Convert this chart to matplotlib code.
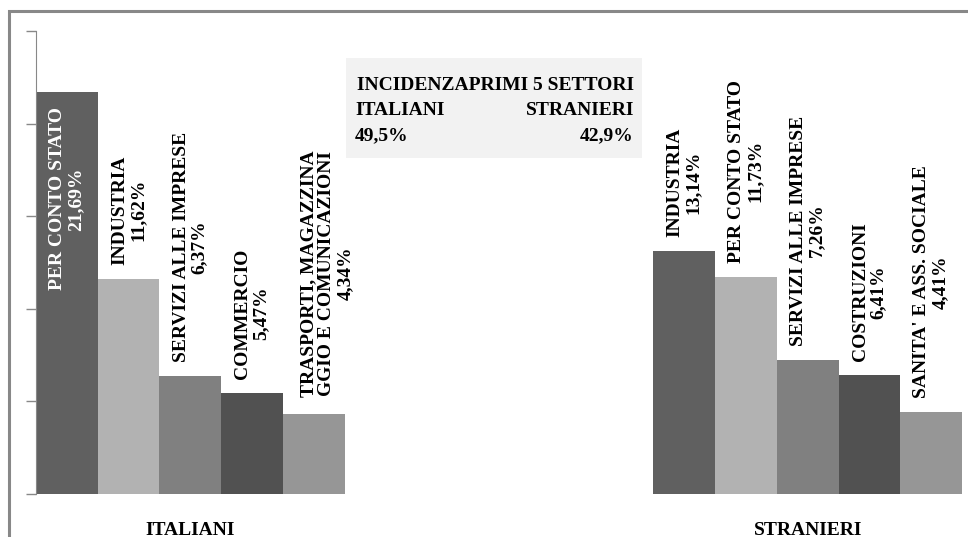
import matplotlib.pyplot as plt
from matplotlib.patches import Rectangle

plt.rcParams['font.family'] = ['Liberation Serif', 'DejaVu Serif']

# Quote per settore (prime 5 attivita')
gruppi = ['ITALIANI', 'STRANIERI']
settori_ita = ['PER CONTO STATO', 'INDUSTRIA', 'SERVIZI ALLE IMPRESE', 'COMMERCIO',
               'TRASPORTI, MAGAZZINA\nGGIO E COMUNICAZIONI']
valori_ita = [21.69, 11.62, 6.37, 5.47, 4.34]
settori_str = ['INDUSTRIA', 'PER CONTO STATO', 'SERVIZI ALLE IMPRESE', 'COSTRUZIONI',
               "SANITA' E ASS. SOCIALE"]
valori_str = [13.14, 11.73, 7.26, 6.41, 4.41]

incidenza_titolo = 'INCIDENZAPRIMI 5 SETTORI'
incidenza = {'ITALIANI': '49,5%', 'STRANIERI': '42,9%'}

colori = ['#606060', '#b2b2b2', '#808080', '#515151', '#969696']

W, H = 968, 537
fig = plt.figure(figsize=(W / 100, H / 100), dpi=100)
ax = fig.add_axes([36 / W, 1 - 494 / H, 926 / W, (494 - 31) / H])

larg = 0.1
fs = 14


def fmt(v):
    return f'{v:.2f}'.replace('.', ',') + '%'


for g, (nomi, valori) in enumerate([(settori_ita, valori_ita), (settori_str, valori_str)]):
    for i, (nome, v) in enumerate(zip(nomi, valori)):
        x = g + (i - 2) * larg
        ax.bar(x, v, width=larg, color=colori[i], linewidth=0)
        testo = f'{nome}\n{fmt(v)}'
        if g == 0 and i == 0:
            # etichetta dentro la barra piu' alta
            ax.annotate(testo, (x, v), xytext=(0, -15), textcoords='offset pixels',
                        rotation=90, ha='center', va='top', color='white',
                        fontsize=fs, fontweight='bold', multialignment='center',
                        linespacing=1.1)
        else:
            # l'etichetta su tre righe e' spostata un po' a destra
            dx = 13 if '\n' in nome else 0
            dy = 17 if '\n' in nome else 14
            ax.annotate(testo, (x, v), xytext=(dx, dy), textcoords='offset pixels',
                        rotation=90, ha='center', va='bottom', color='black',
                        fontsize=fs, fontweight='bold', multialignment='center',
                        linespacing=1.1)

ax.set_xlim(-0.25, 1.25)
ax.set_ylim(0, 25)
ax.set_yticks(range(0, 26, 5))
ax.set_yticklabels([])
ax.set_xticks([0, 1])
ax.set_xticklabels(gruppi, fontsize=fs, fontweight='bold')
ax.tick_params(axis='x', length=0, pad=20)
ax.tick_params(axis='y', length=7, direction='out', color='#888888', width=1)
for s in ['top', 'right', 'bottom']:
    ax.spines[s].set_visible(False)
ax.spines['left'].set_color('#888888')

# riquadro con l'incidenza dei primi 5 settori
fig.patches.append(Rectangle((346 / W, 1 - 158 / H), (642 - 346) / W, (158 - 58) / H,
                             transform=fig.transFigure, facecolor='#f2f2f2',
                             edgecolor='none', zorder=0))
fig.text(496 / W, 1 - 90 / H, incidenza_titolo, ha='center', va='baseline',
         fontsize=fs, fontweight='bold')
fig.text(355 / W, 1 - 115 / H, 'ITALIANI', ha='left', va='baseline', fontsize=fs, fontweight='bold')
fig.text(634 / W, 1 - 115 / H, 'STRANIERI', ha='right', va='baseline', fontsize=fs, fontweight='bold')
fig.text(355 / W, 1 - 140 / H, incidenza['ITALIANI'], ha='left', va='baseline',
         fontsize=fs, fontweight='bold')
fig.text(634 / W, 1 - 140 / H, incidenza['STRANIERI'], ha='right', va='baseline',
         fontsize=fs, fontweight='bold')

# cornice esterna
fig.patches.append(Rectangle((9 / W, -0.1), 1.1, 1.1 - 11 / H, transform=fig.transFigure,
                             facecolor='none', edgecolor='#888888', linewidth=2.2))

fig.savefig('out.png', dpi=100)
